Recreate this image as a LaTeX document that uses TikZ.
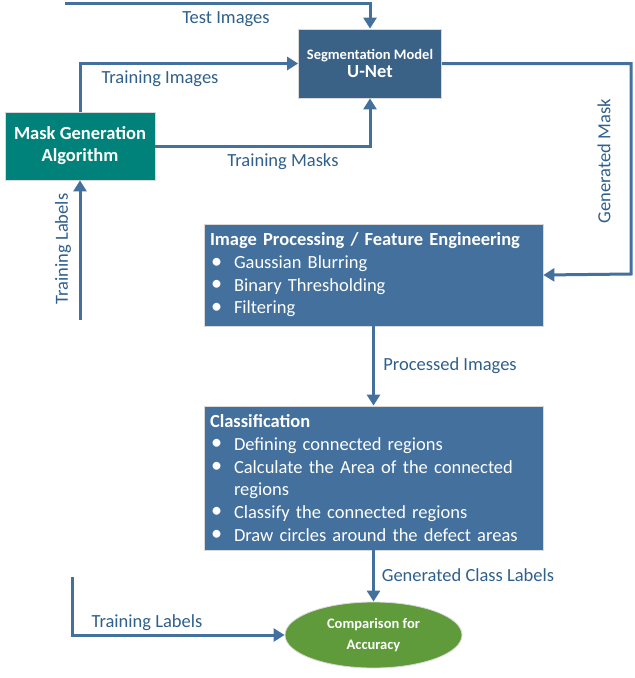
\documentclass[tikz,border=0pt]{standalone}
\usepackage{fontspec}
\setmainfont{Carlito}
\usetikzlibrary{arrows.meta,shapes.geometric}
\definecolor{segblue}{HTML}{3A6186}
\definecolor{boxblue}{HTML}{43709C}
\definecolor{linecol}{HTML}{43709C}
\definecolor{labcol}{HTML}{2F5F8C}
\definecolor{teal}{HTML}{00827A}
\definecolor{leaf}{HTML}{5F9A3B}
\newcommand{\bul}{\makebox[24pt][l]{\hspace{1pt}\raisebox{0.5pt}{\scalebox{1.2}{\textbullet}}}}
\newcommand{\ind}{\hspace*{24pt}}
\begin{document}
\begin{tikzpicture}[x=1pt,y=-1pt,
  box/.style={inner sep=0pt,draw=black!15,line width=0.8pt,text=white},
  conn/.style={draw=linecol,line width=3pt,-{Triangle[length=11pt,width=13pt]}},
  lab/.style={text=labcol,font=\fontsize{18.5}{22}\selectfont,inner sep=0pt},
  listtext/.style={align=left,font=\fontsize{18.5}{22.7}\selectfont}]
\useasboundingbox (0,0) rectangle (635,678);
% nodes
\node[rectangle,box,fill=segblue,minimum width=143pt,minimum height=69pt,align=center] (seg) at (370,63.5)
  {{\fontsize{14.5}{17}\selectfont\bfseries Segmentation Model}\\[3pt]{\fontsize{18.5}{20}\selectfont\bfseries U-Net}};
\node[rectangle,box,fill=teal,minimum width=150pt,minimum height=68pt,align=center,font=\fontsize{18.5}{22}\selectfont\bfseries] (mask) at (80,146)
  {Mask Generation\\Algorithm};
\node[rectangle,box,fill=boxblue,minimum width=339pt,minimum height=102pt,text width=327pt,listtext] (img) at (373.5,275)
  {\textbf{Image Processing / Feature Engineering}\\
   \bul Gaussian Blurring\\
   \bul Binary Thresholding\\
   \bul Filtering};
\node[rectangle,box,fill=boxblue,minimum width=339pt,minimum height=144pt,text width=327pt,listtext] (cls) at (373.5,478)
  {\textbf{Classification}\\
   \bul Defining connected regions\\
   \bul Calculate the Area of the connected\\
   \ind regions\\
   \bul Classify the connected regions\\
   \bul Draw circles around the defect areas};
\node[box,ellipse,fill=leaf,minimum width=177pt,minimum height=66pt,align=center,font=\fontsize{14.5}{21}\selectfont\bfseries] (cmp) at (373.5,635)
  {Comparison for\\Accuracy};
% free ends
\coordinate (ts) at (65,3);
\coordinate (gm) at (631,274);
\coordinate (tl1) at (80,320);
\coordinate (tl2) at (72,577);
% connectors
\draw[conn] (ts) -| (seg.north);
\draw[conn] (mask.north) |- (seg.west);
\draw[conn] (mask.east) -| (seg.south);
\draw[conn] (seg.east) -| (gm) -- (img.east);
\draw[conn] (tl1) -- (mask.south);
\draw[conn] (img.south) -- (cls.north);
\draw[conn] (cls.south) -- (cmp.north);
\draw[conn] (tl2) |- (cmp.west);
% labels
\node[lab,anchor=base] (l1) at (226,23) {Test Images};
\node[lab,anchor=base] (l2) at (160,83) {Training Images};
\node[lab,anchor=base] (l3) at (283,166) {Training Masks};
\node[lab,rotate=90] (l4) at (604,161) {Generated Mask};
\node[lab,rotate=90] (l5) at (63,249) {Training Labels};
\node[lab,anchor=base] (l6) at (450,370) {Processed Images};
\node[lab,anchor=base] (l7) at (468,581) {Generated Class Labels};
\node[lab,anchor=base] (l8) at (147,627) {Training Labels};
\end{tikzpicture}
\end{document}
